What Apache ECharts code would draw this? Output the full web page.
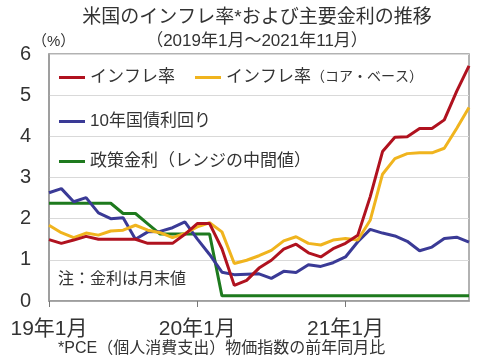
<!DOCTYPE html>
<html><head><meta charset="utf-8">
<script src="https://cdn.jsdelivr.net/npm/echarts@6/dist/echarts.min.js"></script>
<style>html,body{margin:0;padding:0;background:#fff}#c{width:480px;height:360px}</style>
</head><body><div id="c"></div>
<script>
const months = [];
for (let y = 2019; y <= 2021; y++) for (let m = 1; m <= 12; m++) { if (y === 2021 && m > 11) break; months.push(y + '-' + m); }
const tickLabels = {'2019-1':'19年1月','2020-1':'20年1月','2021-1':'21年1月'};
const inflation = [1.49,1.40,1.48,1.57,1.50,1.50,1.50,1.50,1.40,1.40,1.40,1.62,1.88,1.88,1.27,0.38,0.50,0.80,0.99,1.26,1.38,1.17,1.07,1.27,1.40,1.60,2.53,3.63,3.98,3.99,4.19,4.19,4.40,5.09,5.71];
const core = [1.84,1.66,1.54,1.65,1.60,1.70,1.72,1.84,1.72,1.66,1.54,1.64,1.80,1.90,1.68,0.91,0.99,1.10,1.23,1.46,1.56,1.40,1.36,1.48,1.52,1.48,1.96,3.08,3.46,3.58,3.60,3.60,3.71,4.19,4.70];
const bond10 = [2.63,2.73,2.41,2.51,2.14,2.00,2.02,1.50,1.68,1.69,1.78,1.92,1.51,1.13,0.70,0.64,0.65,0.66,0.55,0.72,0.69,0.88,0.84,0.93,1.07,1.44,1.74,1.65,1.58,1.45,1.22,1.31,1.52,1.55,1.43];
const policy = [2.375,2.375,2.375,2.375,2.375,2.375,2.125,2.125,1.875,1.625,1.625,1.625,1.625,1.625,0.125,0.125,0.125,0.125,0.125,0.125,0.125,0.125,0.125,0.125,0.125,0.125,0.125,0.125,0.125,0.125,0.125,0.125,0.125,0.125,0.125];
const names = ['インフレ率','インフレ率（コア・ベース）','10年国債利回り','政策金利（レンジの中間値）'];
const colors = ['#B0121F','#F0B41E','#3A3A96','#1E7A1E'];
const FF = '"Liberation Sans","Noto Sans CJK JP",sans-serif';
const chart = echarts.init(document.getElementById('c'));
const legendPos = [[54,64],[190,64],[54,108],[54,148]];
chart.setOption({
  animation:false,
  textStyle:{fontFamily:FF},
  graphic:[
    {type:'text',x:257,y:8,style:{text:'米国のインフレ率*および主要金利の推移',fontSize:19,fill:'#333',fontFamily:FF,align:'center'}},
    {type:'text',x:257,y:33,style:{text:'（2019年1月～2021年11月）',fontSize:17,fill:'#333',fontFamily:FF,align:'center'}},
    {type:'text',left:32,top:34,style:{text:'（%）',fontSize:15,fill:'#333',fontFamily:FF}},
    {type:'text',left:58,top:272,style:{text:'注：金利は月末値',fontSize:16,fill:'#333',fontFamily:FF}},
    {type:'text',left:58,top:341,style:{text:'*PCE（個人消費支出）物価指数の前年同月比',fontSize:16,fill:'#333',fontFamily:FF}}
  ],
  legend: names.map((n,i)=>({data:[n],left:legendPos[i][0],top:legendPos[i][1],icon:'rect',itemWidth:26,itemHeight:3,itemGap:4,selectedMode:false,
    formatter: i===1 ? ()=>'{a|インフレ率}{b|（コア・ベース）}' : undefined,
    textStyle:{fontSize:17,color:'#333',fontFamily:FF,rich:{a:{fontSize:17,color:'#333',fontFamily:FF},b:{fontSize:14,color:'#333',fontFamily:FF}}}})),
  grid:{left:49,right:11,top:54,bottom:59,show:true,borderColor:'#999',borderWidth:1.5},
  xAxis:{type:'category',data:months,boundaryGap:false,
    axisLine:{lineStyle:{color:'#999',width:1.5}},
    axisTick:{show:true,interval:(i)=>i%12===0,length:6,lineStyle:{color:'#777'}},
    axisLabel:{interval:(i)=>i%12===0,formatter:(v)=>tickLabels[v]||'',fontSize:21,color:'#333',margin:18,fontFamily:FF}},
  yAxis:{type:'value',min:0,max:6,interval:1,
    axisLine:{show:true,lineStyle:{color:'#999',width:1.5}},
    axisLabel:{fontSize:20,color:'#333',margin:18,fontFamily:FF},
    splitLine:{lineStyle:{color:'#d9d9d9',width:1}}},
  series:[inflation,core,bond10,policy].map((d,i)=>({name:names[i],type:'line',data:d,symbol:'none',z:10-i,
    lineStyle:{color:colors[i],width:3},itemStyle:{color:colors[i]}}))
});
</script></body></html>
